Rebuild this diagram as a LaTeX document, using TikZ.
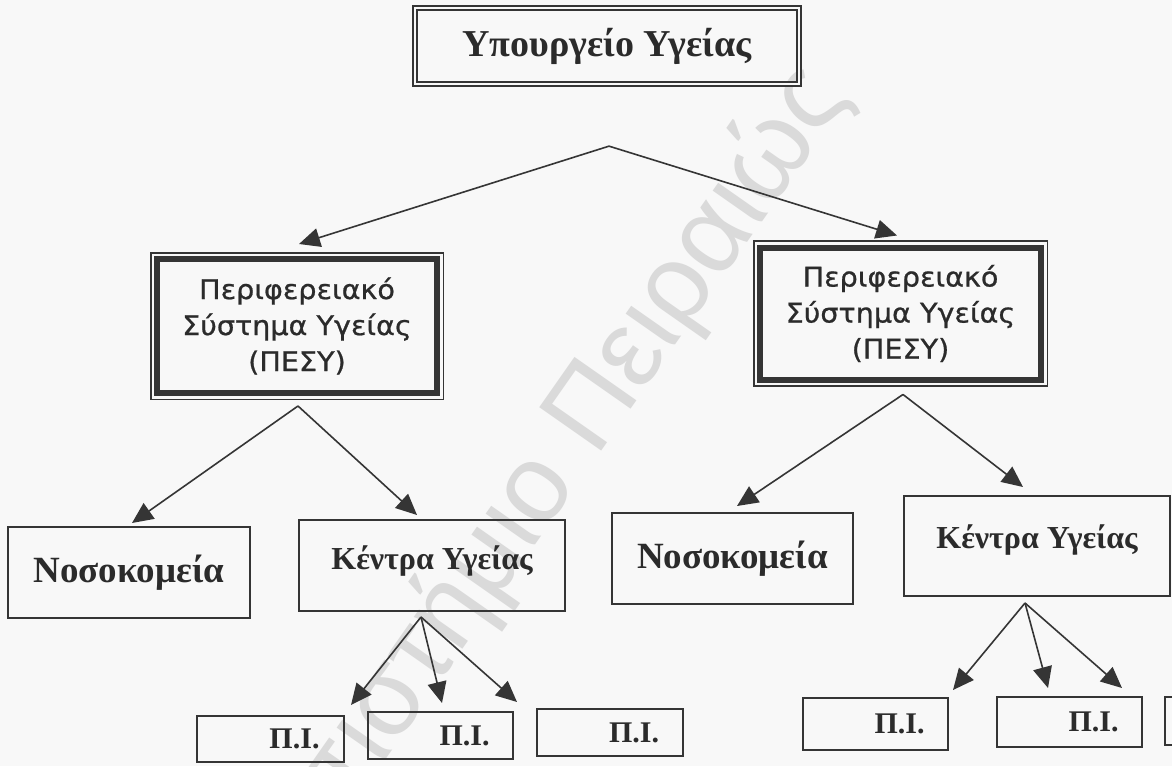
\documentclass[tikz,border=0pt]{standalone}
\usepackage{fontspec}
\setmainfont{Liberation Serif}
\newfontfamily\sansgr[FakeStretch=1.06,FakeBold=0.8]{DejaVu Sans}
\newfontfamily\wmfont{Liberation Sans}
\usetikzlibrary{arrows.meta}
\definecolor{bg}{HTML}{F8F8F8}
\definecolor{ink}{HTML}{2B2B2B}
\definecolor{linec}{HTML}{353535}
\definecolor{wm}{HTML}{DADADA}
\begin{document}
\begin{tikzpicture}[x=1pt,y=-1pt,
  box/.style={draw=linec, line width=1.8pt, inner sep=0pt, outer sep=0pt, text=ink},
  dbox/.style={draw=linec, line width=1.6pt, double=bg, double distance=2.5pt, inner sep=0pt, outer sep=0pt, text=ink},
  pesy/.style={draw=linec, line width=6pt, inner sep=0pt, outer sep=0pt, text=ink, align=center,
    font=\sansgr\fontsize{27pt}{36pt}\selectfont},
  thinframe/.style={draw=linec, line width=1.8pt},
  arr/.style={draw=linec, line width=1.6pt, -{Triangle[length=21pt,width=19pt]}},
  topfont/.style={font=\bfseries\fontsize{38pt}{44pt}\selectfont},
  nosfont/.style={font=\bfseries\fontsize{37pt}{44pt}\selectfont},
  kenfont/.style={font=\bfseries\fontsize{32pt}{38pt}\selectfont},
  pifont/.style={font=\bfseries\fontsize{30pt}{36pt}\selectfont},
  wmstyle/.style={font=\wmfont\fontsize{110pt}{120pt}\selectfont, text=wm}
]
\fill[bg] (0,0) rectangle (1172,766);
\useasboundingbox (0,0) rectangle (1172,766);
\clip (0,0) rectangle (1172,766);

% watermark
\node[wmstyle, rotate=55, anchor=base east, inner sep=0pt] (wmark) at (850,96) {Πανεπιστήμιο Πειραιώς};

% top
\node[dbox, topfont, minimum width=384.3pt, minimum height=76.3pt] (top) at (607,46) {Υπουργείο Υγείας};

% regional systems
\node[pesy, minimum width=280pt, minimum height=134pt] (pesyL) at (297,326) {Περιφερειακό\\Σύστημα Υγείας\\(ΠΕΣΥ)};
\node[pesy, minimum width=281pt, minimum height=132pt] (pesyR) at (900.5,313.5) {Περιφερειακό\\Σύστημα Υγείας\\(ΠΕΣΥ)};
\draw[thinframe] ([shift={(-6.4,-6.4)}]pesyL.north west) rectangle ([shift={(6.4,6.4)}]pesyL.south east);
\draw[thinframe] ([shift={(-6.4,-6.4)}]pesyR.north west) rectangle ([shift={(6.4,6.4)}]pesyR.south east);

% second level
\node[box, nosfont, minimum width=242pt, minimum height=91pt] (nosL) at (129,572.5) {Νοσοκομεία};
\node[box, kenfont, minimum width=266pt, minimum height=91pt] (kenL) at (432,565.5) {\raisebox{4pt}[\height][\depth]{Κέντρα Υγείας}};
\node[box, nosfont, minimum width=241pt, minimum height=91pt] (nosR) at (732.5,558.5) {Νοσοκομεία};
\node[box, kenfont, minimum width=266pt, minimum height=100pt] (kenR) at (1037,546) {\raisebox{6pt}[\height][\depth]{Κέντρα Υγείας}};

% third level
\node[box, pifont, minimum width=147pt, minimum height=46pt] (pi1) at (270.5,739) {\hspace*{48pt}Π.Ι.};
\node[box, pifont, minimum width=145pt, minimum height=47pt] (pi2) at (440.5,735.5) {\hspace*{48pt}Π.Ι.};
\node[box, pifont, minimum width=146pt, minimum height=47pt] (pi3) at (610,732.5) {\hspace*{48pt}Π.Ι.};
\node[box, pifont, minimum width=145pt, minimum height=52pt] (piA) at (875.5,724) {\hspace*{48pt}Π.Ι.};
\node[box, pifont, minimum width=145pt, minimum height=50pt] (piB) at (1069.5,722) {\hspace*{48pt}Π.Ι.};
\node[box, pifont, minimum width=145pt, minimum height=48pt] (piC) at (1237.5,721) {};

% forks
\coordinate (ftop) at ([shift={(2,62)}]top.south);
\coordinate (fL) at ([shift={(1,13)}]pesyL.south);
\coordinate (fR) at ([shift={(2.5,15)}]pesyR.south);
\coordinate (fKL) at ([shift={(-11,6)}]kenL.south);
\coordinate (fKR) at ([shift={(-12,7)}]kenR.south);

% connectors
\draw[arr] (ftop) -- ([shift={(2,-15)}]pesyL.north);
\draw[arr] (ftop) -- ([shift={(-3.5,-12)}]pesyR.north);
\draw[arr] (fL) -- ([shift={(3,-4)}]nosL.north);
\draw[arr] (fL) -- ([shift={(-15,-5)}]kenL.north);
\draw[arr] (fR) -- ([shift={(4.5,-7)}]nosR.north);
\draw[arr] (fR) -- ([shift={(-14,-9)}]kenR.north);
\draw[arr] (fKL) -- ([shift={(7,-11)}]pi1.north east);
\draw[arr] (fKL) -- ([shift={(1.5,-9)}]pi2.north);
\draw[arr] (fKL) -- ([shift={(-20,-7)}]pi3.north west);
\draw[arr] (fKR) -- ([shift={(5,-8)}]piA.north east);
\draw[arr] (fKR) -- ([shift={(-21.5,-9)}]piB.north);
\draw[arr] (fKR) -- ([shift={(-20,-9)}]piB.north east);
\end{tikzpicture}
\end{document}
